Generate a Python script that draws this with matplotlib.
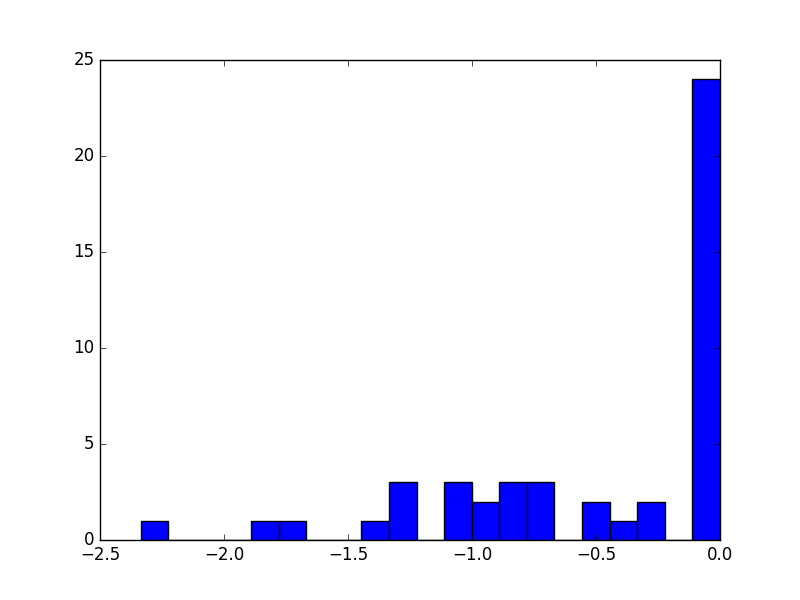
import numpy as np
import matplotlib
matplotlib.use('Agg')
import matplotlib.pyplot as plt

plt.style.use('classic')

# histogram: 21 bins between lo and 0
lo = -2.336
nbins = 21
counts = [1, 0, 0, 0, 1, 1, 0, 0, 1, 3, 0, 3, 2, 3, 3, 0, 2, 1, 2, 0, 24]

edges = np.linspace(lo, 0.0, nbins + 1)
centers = 0.5 * (edges[:-1] + edges[1:])

fig = plt.figure(figsize=(8, 6), dpi=100)
ax = fig.add_subplot(111)
ax.hist(centers, bins=edges, weights=counts, color='b', edgecolor='k')
ax.set_xlim(-2.5, 0.0)
ax.set_ylim(0, 25)
fig.savefig('out.png', dpi=100, facecolor='white')
